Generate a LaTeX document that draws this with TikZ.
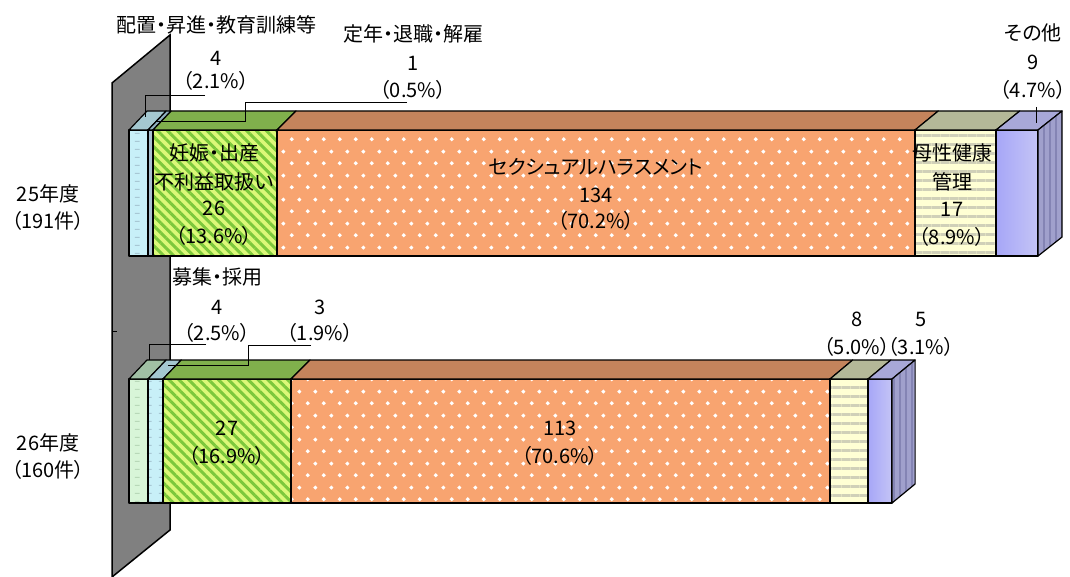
\documentclass[tikz,border=0pt]{standalone}
\usepackage{fontspec}
\setmainfont{Noto Sans CJK JP}[RawFeature=+palt]
\usetikzlibrary{positioning,patterns,patterns.meta}

\definecolor{wallgray}{HTML}{808080}
\definecolor{segblue}{HTML}{C8F0F8}
\definecolor{segbluetop}{HTML}{A4C8D0}
\definecolor{dashblue}{HTML}{A8C8D4}
\definecolor{segsteel}{HTML}{A8C0D0}
\definecolor{segsteeltop}{HTML}{90B0C0}
\definecolor{segmint}{HTML}{D8F5D8}
\definecolor{segminttop}{HTML}{A0C0A4}
\definecolor{dashmint}{HTML}{B8D8B8}
\definecolor{seglime}{HTML}{DCF878}
\definecolor{seggreen}{HTML}{7CC83C}
\definecolor{seggreentop}{HTML}{80B04C}
\definecolor{segorange}{HTML}{F8A470}
\definecolor{segorangetop}{HTML}{C4845C}
\definecolor{segyellow}{HTML}{FFFFD4}
\definecolor{stripeyellow}{HTML}{D0D0B8}
\definecolor{segyellowtop}{HTML}{B4B898}
\definecolor{segpurple}{HTML}{C4C4F6}
\definecolor{segpurpletop}{HTML}{A8A8D8}
\definecolor{segpurpleside}{HTML}{A0A0CC}
\definecolor{stripepurple}{HTML}{8484B4}

% white diamonds on the orange part
\pgfdeclarepatternformonly{w_dots}{\pgfpointorigin}{\pgfpoint{16pt}{24pt}}{\pgfpoint{16pt}{24pt}}{%
  \pgfpathmoveto{\pgfpoint{4pt}{3.8pt}}\pgfpathlineto{\pgfpoint{6.2pt}{6pt}}%
  \pgfpathlineto{\pgfpoint{4pt}{8.2pt}}\pgfpathlineto{\pgfpoint{1.8pt}{6pt}}\pgfpathclose
  \pgfpathmoveto{\pgfpoint{12pt}{15.8pt}}\pgfpathlineto{\pgfpoint{14.2pt}{18pt}}%
  \pgfpathlineto{\pgfpoint{12pt}{20.2pt}}\pgfpathlineto{\pgfpoint{9.8pt}{18pt}}\pgfpathclose
  \pgfusepath{fill}}
% short dashes on the pale parts
\pgfdeclarepatternformonly{h_dash}{\pgfpointorigin}{\pgfpoint{12pt}{8pt}}{\pgfpoint{12pt}{8pt}}{%
  \pgfsetlinewidth{1pt}%
  \pgfpathmoveto{\pgfpoint{3pt}{4pt}}\pgfpathlineto{\pgfpoint{8pt}{4pt}}%
  \pgfusepath{stroke}}

% one piece of a bar: x1, x2, top, bottom, front style, top style
\newcommand{\barseg}[6]{%
  \path[#5] (#1,#3) rectangle (#2,#4);
  \path[#6] (#1,#3) -- (#2,#3) -- (#2+18+#2/150-0.86,#3-19) -- (#1+18+#1/150-0.86,#3-19) -- cycle;}
% right end of a bar: x, top, bottom
\newcommand{\barend}[3]{%
  \path[s_purple] (#1,#2) -- (#1+18+#1/150-0.86,#2-19) -- (#1+18+#1/150-0.86,#3-19) -- (#1,#3) -- cycle;}

\begin{document}
\begin{tikzpicture}[x=1pt,y=-1pt,on grid,
	n_lbl/.style={font=\fontsize{20}{24}\selectfont, inner sep=0pt},
	n_ldr/.style={draw=black, line width=1pt},
	f_edge/.style={draw=black, line width=1.2pt, line join=round},
	f_blue/.style={f_edge, preaction={fill=segblue}, pattern=h_dash, pattern color=dashblue},
	f_mint/.style={f_edge, preaction={fill=segmint}, pattern=h_dash, pattern color=dashmint},
	f_steel/.style={f_edge, fill=segsteel},
	f_green/.style={f_edge, preaction={fill=seglime}, pattern={Lines[angle=-45,distance=7pt,line width=3pt]}, pattern color=seggreen},
	f_orange/.style={f_edge, preaction={fill=segorange}, pattern=w_dots, pattern color=white},
	f_yellow/.style={f_edge, preaction={fill=segyellow}, pattern={Lines[angle=0,distance=9pt,line width=3pt]}, pattern color=stripeyellow},
	f_purple/.style={f_edge, preaction={left color=segpurple!85!blue, middle color=white!75!segpurple, right color=segpurple}},
	s_purple/.style={f_edge, preaction={fill=segpurpleside}, pattern={Lines[angle=90,distance=6pt,line width=2pt]}, pattern color=stripepurple},
	t_blue/.style={f_edge, fill=segbluetop},
	t_mint/.style={f_edge, fill=segminttop},
	t_steel/.style={f_edge, fill=segsteeltop},
	t_green/.style={f_edge, fill=seggreentop},
	t_orange/.style={f_edge, fill=segorangetop},
	t_yellow/.style={f_edge, fill=segyellowtop},
	t_purple/.style={f_edge, fill=segpurpletop},
	]
	\useasboundingbox (0,0) rectangle (1070,577);

	% side wall
	\path[draw=black, line width=1.5pt, fill=wallgray] (112,83) -- (170,35) -- (170,530) -- (112,577) -- cycle;
	\draw[line width=1pt] (112,331) -- (117,331);

	% 25 bar
	\barseg{129}{148}{130}{256}{f_blue}{t_blue}
	\barseg{148}{153}{130}{256}{f_steel}{t_steel}
	\barseg{153}{277}{130}{256}{f_green}{t_green}
	\barseg{277}{915}{130}{256}{f_orange}{t_orange}
	\barseg{915}{996}{130}{256}{f_yellow}{t_yellow}
	\barseg{996}{1038}{130}{256}{f_purple}{t_purple}
	\barend{1038}{130}{256}

	% 26 bar
	\barseg{129}{148}{379}{503}{f_mint}{t_mint}
	\barseg{148}{163}{379}{503}{f_blue}{t_blue}
	\barseg{163}{291}{379}{503}{f_green}{t_green}
	\barseg{291}{830}{379}{503}{f_orange}{t_orange}
	\barseg{830}{868}{379}{503}{f_yellow}{t_yellow}
	\barseg{868}{892}{379}{503}{f_purple}{t_purple}
	\barend{892}{379}{503}

	% years
	\node(y25)[n_lbl] at (48,194){25年度};
	\node(y25n)[n_lbl, below=27pt of y25]{（191件）};
	\node(y26)[n_lbl] at (48,443){26年度};
	\node(y26n)[n_lbl, below=27pt of y26]{（160件）};

	% labels of the 25 bar
	\node(hk)[n_lbl] at (216,25){配置・昇進・教育訓練等};
	\node(hkn)[n_lbl, below=33pt of hk]{4};
	\node(hkp)[n_lbl, below=23pt of hkn]{（2.1\%）};
	\node(tn)[n_lbl] at (413,34){定年・退職・解雇};
	\node(tnn)[n_lbl, below=29pt of tn]{1};
	\node(tnp)[n_lbl, below=27pt of tnn]{（0.5\%）};
	\node(nf)[n_lbl] at (214,153){妊娠・出産};
	\node(nf2)[n_lbl, below=29pt of nf]{不利益取扱い};
	\node(nfn)[n_lbl, below=26pt of nf2]{26};
	\node(nfp)[n_lbl, below=28pt of nfn]{（13.6\%）};
	\node(sh)[n_lbl] at (596,167){セクシュアルハラスメント};
	\node(shn)[n_lbl, below=28pt of sh]{134};
	\node(shp)[n_lbl, below=26pt of shn]{（70.2\%）};
	\node(bs)[n_lbl] at (952,153){母性健康};
	\node(bs2)[n_lbl, below=29pt of bs]{管理};
	\node(bsn)[n_lbl, below=27pt of bs2]{17};
	\node(bsp)[n_lbl, below=28pt of bsn]{（8.9\%）};
	\node(ot)[n_lbl] at (1033,33){その他};
	\node(otn)[n_lbl, below=29pt of ot]{9};
	\node(otp)[n_lbl, below=28pt of otn]{（4.7\%）};

	% labels of the 26 bar
	\node(bo)[n_lbl] at (217,277){募集・採用};
	\node(bon)[n_lbl, below=30pt of bo]{4};
	\node(bop)[n_lbl, below=26pt of bon]{（2.5\%）};
	\node(hk2n)[n_lbl] at (320,307){3};
	\node(hk2p)[n_lbl, below=26pt of hk2n]{（1.9\%）};
	\node(nf3n)[n_lbl] at (227,428){27};
	\node(nf3p)[n_lbl, below=28pt of nf3n]{（16.9\%）};
	\node(sh3n)[n_lbl] at (560,428){113};
	\node(sh3p)[n_lbl, below=28pt of sh3n]{（70.6\%）};
	\node(bs3n)[n_lbl] at (857,319){8};
	\node(bs3p)[n_lbl, below=28pt of bs3n]{（5.0\%）};
	\node(ot3n)[n_lbl] at (921,319){5};
	\node(ot3p)[n_lbl, below=28pt of ot3n]{（3.1\%）};

	% leader lines
	\coordinate(hka) at (205,96);
	\coordinate(hkb) at (145,117);
	\coordinate(tna) at (407,103);
	\coordinate(tnm) at (245,122);
	\coordinate(tnb) at (155,122);
	\coordinate(ota) at (1036,107);
	\coordinate(otb) at (1036,123);
	\coordinate(boa) at (206,344);
	\coordinate(bob) at (149,360);
	\coordinate(hk2a) at (311,345);
	\coordinate(hk2m) at (248,365);
	\coordinate(hk2b) at (168,365);
	\draw[n_ldr] (hka) -| (hkb);
	\draw[n_ldr] (tna) -| (tnm) -- (tnb);
	\draw[n_ldr] (ota) -- (otb);
	\draw[n_ldr] (boa) -| (bob);
	\draw[n_ldr] (hk2a) -| (hk2m) -- (hk2b);

\end{tikzpicture}
\end{document}
